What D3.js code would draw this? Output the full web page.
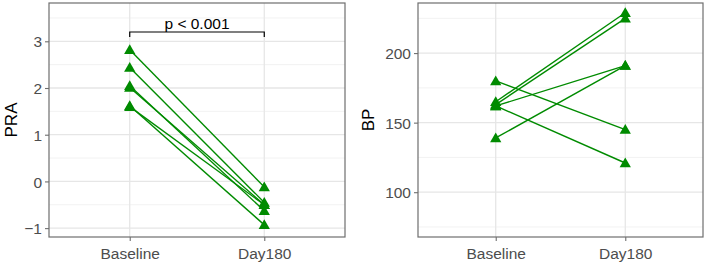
<!DOCTYPE html>
<html><head><meta charset="utf-8">
<script src="https://cdn.jsdelivr.net/npm/d3@7"></script>
<style>body{margin:0;background:#fff}svg{display:block}</style>
</head><body>
<svg id="c" width="709" height="263"></svg>
<script>
const categories = ["Baseline", "Day180"];
const praBaseline = [2.82, 2.44, 2.05, 2.01, 1.62, 1.60];
const praDay180   = [-0.12, -0.45, -0.63, -0.50, -0.93, -0.50];
const bpBaseline  = [165, 163, 162, 162, 180, 139];
const bpDay180    = [229, 225, 191, 121, 145, 191];
const praTicks = [-1, 0, 1, 2, 3];
const praMinor = [-0.5, 0.5, 1.5, 2.5, 3.5];
const bpTicks = [100, 150, 200];
const bpMinor = [75, 125, 175, 225];
const pLabel = "p < 0.001";

const svg = d3.select("#c");
const green = "#008B00";
const font = "Liberation Sans, Arial, sans-serif";

function panel(cfg) {
  const {x0, x1, y0, y1, domain, ticks, minor, base, day, title, titleX, bracket} = cfg;
  const x = d3.scalePoint().domain(categories).range([x0, x1]).padding(0.6);
  const y = d3.scaleLinear().domain(domain).range([y1, y0]);
  const g = svg.append("g");
  g.append("rect").attr("x", x0).attr("y", y0).attr("width", x1 - x0).attr("height", y1 - y0).attr("fill", "#fff");
  g.selectAll(".mn").data(minor).join("line")
    .attr("x1", x0).attr("x2", x1).attr("y1", d => y(d)).attr("y2", d => y(d))
    .attr("stroke", "#f2f2f2").attr("stroke-width", 1);
  g.selectAll(".mj").data(ticks).join("line")
    .attr("x1", x0).attr("x2", x1).attr("y1", d => y(d)).attr("y2", d => y(d))
    .attr("stroke", "#e6e6e6").attr("stroke-width", 1.3);
  g.selectAll(".mx").data(categories).join("line")
    .attr("x1", d => x(d)).attr("x2", d => x(d)).attr("y1", y0).attr("y2", y1)
    .attr("stroke", "#e6e6e6").attr("stroke-width", 1.3);
  const pairs = base.map((b, i) => [b, day[i]]);
  g.selectAll(".ln").data(pairs).join("line")
    .attr("x1", x(categories[0])).attr("x2", x(categories[1]))
    .attr("y1", d => y(d[0])).attr("y2", d => y(d[1]))
    .attr("stroke", green).attr("stroke-width", 1.4);
  const tri = d3.symbol().type(d3.symbolTriangle).size(55);
  const pts = [];
  base.forEach(v => pts.push([categories[0], v]));
  day.forEach(v => pts.push([categories[1], v]));
  g.selectAll(".pt").data(pts).join("path")
    .attr("d", tri)
    .attr("transform", d => `translate(${x(d[0])},${y(d[1]) + 1})`)
    .attr("fill", green);
  g.append("rect").attr("x", x0).attr("y", y0).attr("width", x1 - x0).attr("height", y1 - y0)
    .attr("fill", "none").attr("stroke", "#6e6e6e").attr("stroke-width", 1.2);
  const ya = g.append("g").attr("transform", `translate(${x0},0)`)
    .call(d3.axisLeft(y).tickValues(ticks).tickFormat(d3.format("d")).tickSize(4).tickPadding(3));
  const xa = g.append("g").attr("transform", `translate(0,${y1})`)
    .call(d3.axisBottom(x).tickSize(4).tickPadding(3));
  [ya, xa].forEach(a => {
    a.select(".domain").remove();
    a.selectAll(".tick line").attr("stroke", "#6e6e6e").attr("stroke-width", 1.1);
    a.selectAll(".tick text").attr("fill", "#4d4d4d").style("font-family", font).style("font-size", "15.5px");
  });
  ya.selectAll(".tick text").attr("dy", "0.36em");
  xa.selectAll(".tick text").attr("dy", "0.95em");
  g.append("text").attr("transform", `translate(${titleX},${(y0 + y1) / 2}) rotate(-90)`)
    .attr("text-anchor", "middle").attr("dy", "0.36em")
    .style("font-family", font).style("font-size", "17px").attr("fill", "#000").text(title);
  if (bracket) {
    const by = 32, xa1 = x(categories[0]), xb = x(categories[1]);
    g.append("path").attr("d", `M${xa1},${by + 5}V${by}H${xb}V${by + 5}`)
      .attr("fill", "none").attr("stroke", "#000").attr("stroke-width", 1.2);
    g.append("text").attr("x", (xa1 + xb) / 2).attr("y", by - 3)
      .attr("text-anchor", "middle").style("font-family", font).style("font-size", "15.5px")
      .attr("fill", "#000").text(pLabel);
  }
}

panel({x0: 49, x1: 345, y0: 3, y1: 237, domain: [-1.19, 3.82], ticks: praTicks, minor: praMinor,
  base: praBaseline, day: praDay180, title: "PRA", titleX: 11, bracket: true});
panel({x0: 418, x1: 703, y0: 3, y1: 237, domain: [67.8, 236], ticks: bpTicks, minor: bpMinor,
  base: bpBaseline, day: bpDay180, title: "BP", titleX: 368, bracket: false});
</script>
</body></html>
